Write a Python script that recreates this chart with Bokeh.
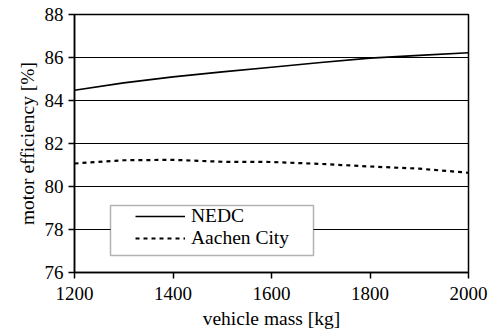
from bokeh.plotting import figure
from bokeh.models import Legend, LegendItem, Range1d, FixedTicker, BoxAnnotation
from bokeh.embed import file_html
from bokeh.resources import INLINE

mass = [1200, 1300, 1400, 1500, 1600, 1700, 1800, 1900, 2000]
nedc = [84.48, 84.82, 85.1, 85.33, 85.55, 85.77, 85.97, 86.1, 86.22]
aachen = [81.07, 81.22, 81.24, 81.15, 81.14, 81.05, 80.93, 80.83, 80.64]
xticks = [1200, 1400, 1600, 1800, 2000]
yticks = [76, 78, 80, 82, 84, 86, 88]

FONT = "Liberation Serif"

p = figure(width=489, height=336, output_backend="svg", toolbar_location=None,
           x_range=Range1d(1200, 2000), y_range=Range1d(76, 88),
           min_border_left=74, min_border_right=21, min_border_top=14, min_border_bottom=64)
p.background_fill_color = "white"
p.border_fill_color = "white"
p.outline_line_color = "black"
p.outline_line_width = 1.5

r1 = p.line(mass, nedc, line_color="black", line_width=1.6)
r2 = p.line(mass, aachen, line_color="black", line_width=2.2, line_dash="4 4")

p.xgrid.visible = False
p.ygrid.grid_line_color = "black"
p.ygrid.grid_line_width = 1.2
p.ygrid.grid_line_alpha = 1

for ax in (p.xaxis[0], p.yaxis[0]):
    ax.axis_line_color = "black"
    ax.axis_line_width = 1.5
    ax.major_tick_line_color = "black"
    ax.major_tick_line_width = 1.5
    ax.major_tick_out = 6
    ax.major_tick_in = 0
    ax.minor_tick_line_color = None
    ax.major_label_text_font = FONT
    ax.major_label_text_font_size = "19px"
    ax.major_label_text_color = "black"
    ax.axis_label_text_font = FONT
    ax.axis_label_text_font_size = "19.5px"
    ax.axis_label_text_font_style = "normal"
    ax.axis_label_text_color = "black"

p.xaxis.ticker = FixedTicker(ticks=xticks)
p.yaxis.ticker = FixedTicker(ticks=yticks)
p.xaxis.axis_label = "vehicle mass [kg]"
p.yaxis.axis_label = "motor efficiency [%]"
p.xaxis.major_label_standoff = 8
p.yaxis.major_label_standoff = 5
p.xaxis.axis_label_standoff = 5
p.yaxis.axis_label_standoff = 4

box = BoxAnnotation(left=110, right=313, top=205, bottom=255,
                    left_units="canvas", right_units="canvas",
                    top_units="canvas", bottom_units="canvas",
                    fill_color="white", fill_alpha=1,
                    line_color="black", line_width=1.5)
p.add_layout(box)

legend = Legend(items=[LegendItem(label="NEDC", renderers=[r1]),
                       LegendItem(label="Aachen City", renderers=[r2])],
                location=(61, 23))
legend.border_line_color = None
legend.background_fill_alpha = 0
legend.label_text_font = FONT
legend.label_text_font_size = "19.5px"
legend.label_text_color = "black"
legend.glyph_width = 50
legend.glyph_height = 20
legend.label_height = 20
legend.label_standoff = 6
legend.spacing = 0
legend.margin = 0
legend.padding = 0
p.add_layout(legend, "center")

open("out.html", "w").write(file_html(p, INLINE))
